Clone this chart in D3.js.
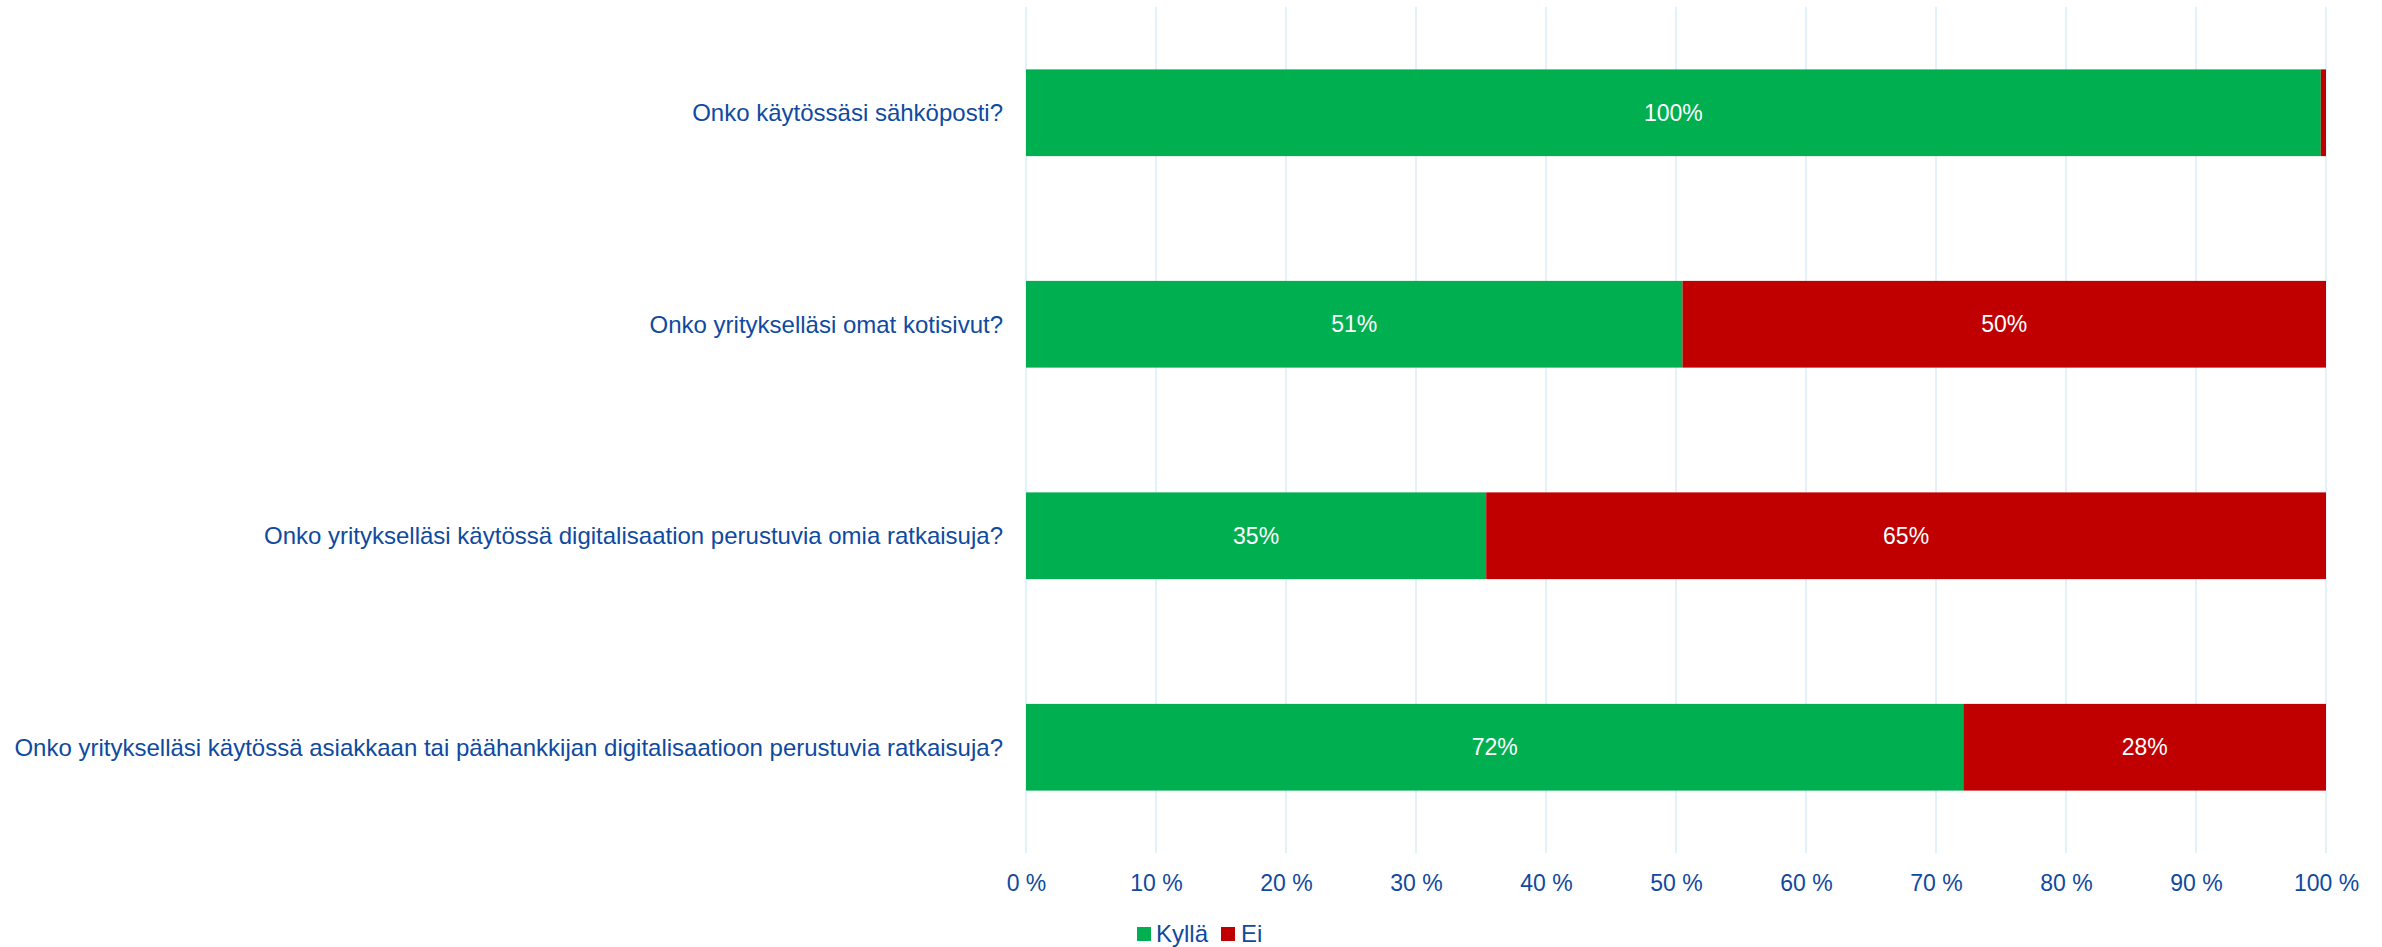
<!DOCTYPE html>
<html>
<head>
<meta charset="utf-8">
<script src="https://cdn.jsdelivr.net/npm/d3@7"></script>
<style>
  html, body { margin: 0; padding: 0; background: #fff; }
  svg { display: block; font-family: "Liberation Sans", Arial, sans-serif; }
</style>
</head>
<body>
<svg id="chart" width="2382" height="947"></svg>
<script>
const categories = [
  "Onko käytössäsi sähköposti?",
  "Onko yritykselläsi omat kotisivut?",
  "Onko yritykselläsi käytössä digitalisaation perustuvia omia ratkaisuja?",
  "Onko yritykselläsi käytössä asiakkaan tai päähankkijan digitalisaatioon perustuvia ratkaisuja?"
];
const seriesNames = ["Kyllä", "Ei"];
const kyllaValues = [99.6, 50.5, 35.4, 72.1];
const eiValues = [0.4, 49.5, 64.6, 27.9];
const kyllaLabels = ["100%", "51%", "35%", "72%"];
const eiLabels = ["", "50%", "65%", "28%"];
const tickValues = [0, 10, 20, 30, 40, 50, 60, 70, 80, 90, 100];
const tickLabels = ["0 %", "10 %", "20 %", "30 %", "40 %", "50 %", "60 %", "70 %", "80 %", "90 %", "100 %"];
const colors = ["#00B050", "#C00000"];

const textColor = "#0F4AA0";
const svg = d3.select("#chart");

const x = d3.scaleLinear().domain([0, 100]).range([1026, 2326]);
const y = d3.scaleBand().domain(categories).range([7, 853]).paddingInner(0.59).paddingOuter(0.295);

// gridlines
svg.append("g").selectAll("line").data(tickValues).join("line")
  .attr("x1", d => x(d)).attr("x2", d => x(d))
  .attr("y1", 7).attr("y2", 853)
  .attr("stroke", "#E3F1FB").attr("stroke-width", 2);

// stacked data
const rows = categories.map((c, i) => ({cat: c, Kyllä: kyllaValues[i], Ei: eiValues[i], i}));
const stack = d3.stack().keys(seriesNames)(rows);
const labels = [kyllaLabels, eiLabels];

const layers = svg.append("g").selectAll("g").data(stack).join("g")
  .attr("fill", (d, k) => colors[k]);
layers.selectAll("rect").data(d => d).join("rect")
  .attr("x", d => x(d[0]))
  .attr("width", d => x(d[1]) - x(d[0]))
  .attr("y", d => y(d.data.cat))
  .attr("height", y.bandwidth());

// value labels
stack.forEach((layer, k) => {
  svg.append("g").selectAll("text").data(layer).join("text")
    .attr("x", d => (x(d[0]) + x(d[1])) / 2)
    .attr("y", d => y(d.data.cat) + y.bandwidth() / 2)
    .attr("dy", "0.35em")
    .attr("text-anchor", "middle")
    .attr("fill", "#FFFFFF")
    .attr("font-size", 23)
    .text(d => labels[k][d.data.i]);
});

// category axis labels
svg.append("g").selectAll("text").data(categories).join("text")
  .attr("x", 1003)
  .attr("y", d => y(d) + y.bandwidth() / 2)
  .attr("dy", "0.35em")
  .attr("text-anchor", "end")
  .attr("fill", textColor)
  .attr("font-size", 24)
  .text(d => d);

// x axis
const xAxis = d3.axisBottom(x).tickValues(tickValues)
  .tickFormat((d, i) => tickLabels[i]).tickSize(0).tickPadding(0);
const gx = svg.append("g").attr("transform", "translate(0,875)").call(xAxis);
gx.select(".domain").remove();
gx.selectAll("text").attr("fill", textColor).attr("font-size", 23)
  .attr("font-family", "'Liberation Sans', Arial, sans-serif").attr("dy", "0.71em");

// legend
const legendItems = [
  {name: seriesNames[0], color: colors[0], sx: 1137, tx: 1156},
  {name: seriesNames[1], color: colors[1], sx: 1221, tx: 1241}
];
const lg = svg.append("g");
lg.selectAll("rect").data(legendItems).join("rect")
  .attr("x", d => d.sx).attr("y", 927).attr("width", 14).attr("height", 14)
  .attr("fill", d => d.color);
lg.selectAll("text").data(legendItems).join("text")
  .attr("x", d => d.tx).attr("y", 942)
  .attr("fill", textColor).attr("font-size", 24)
  .text(d => d.name);
</script>
</body>
</html>
